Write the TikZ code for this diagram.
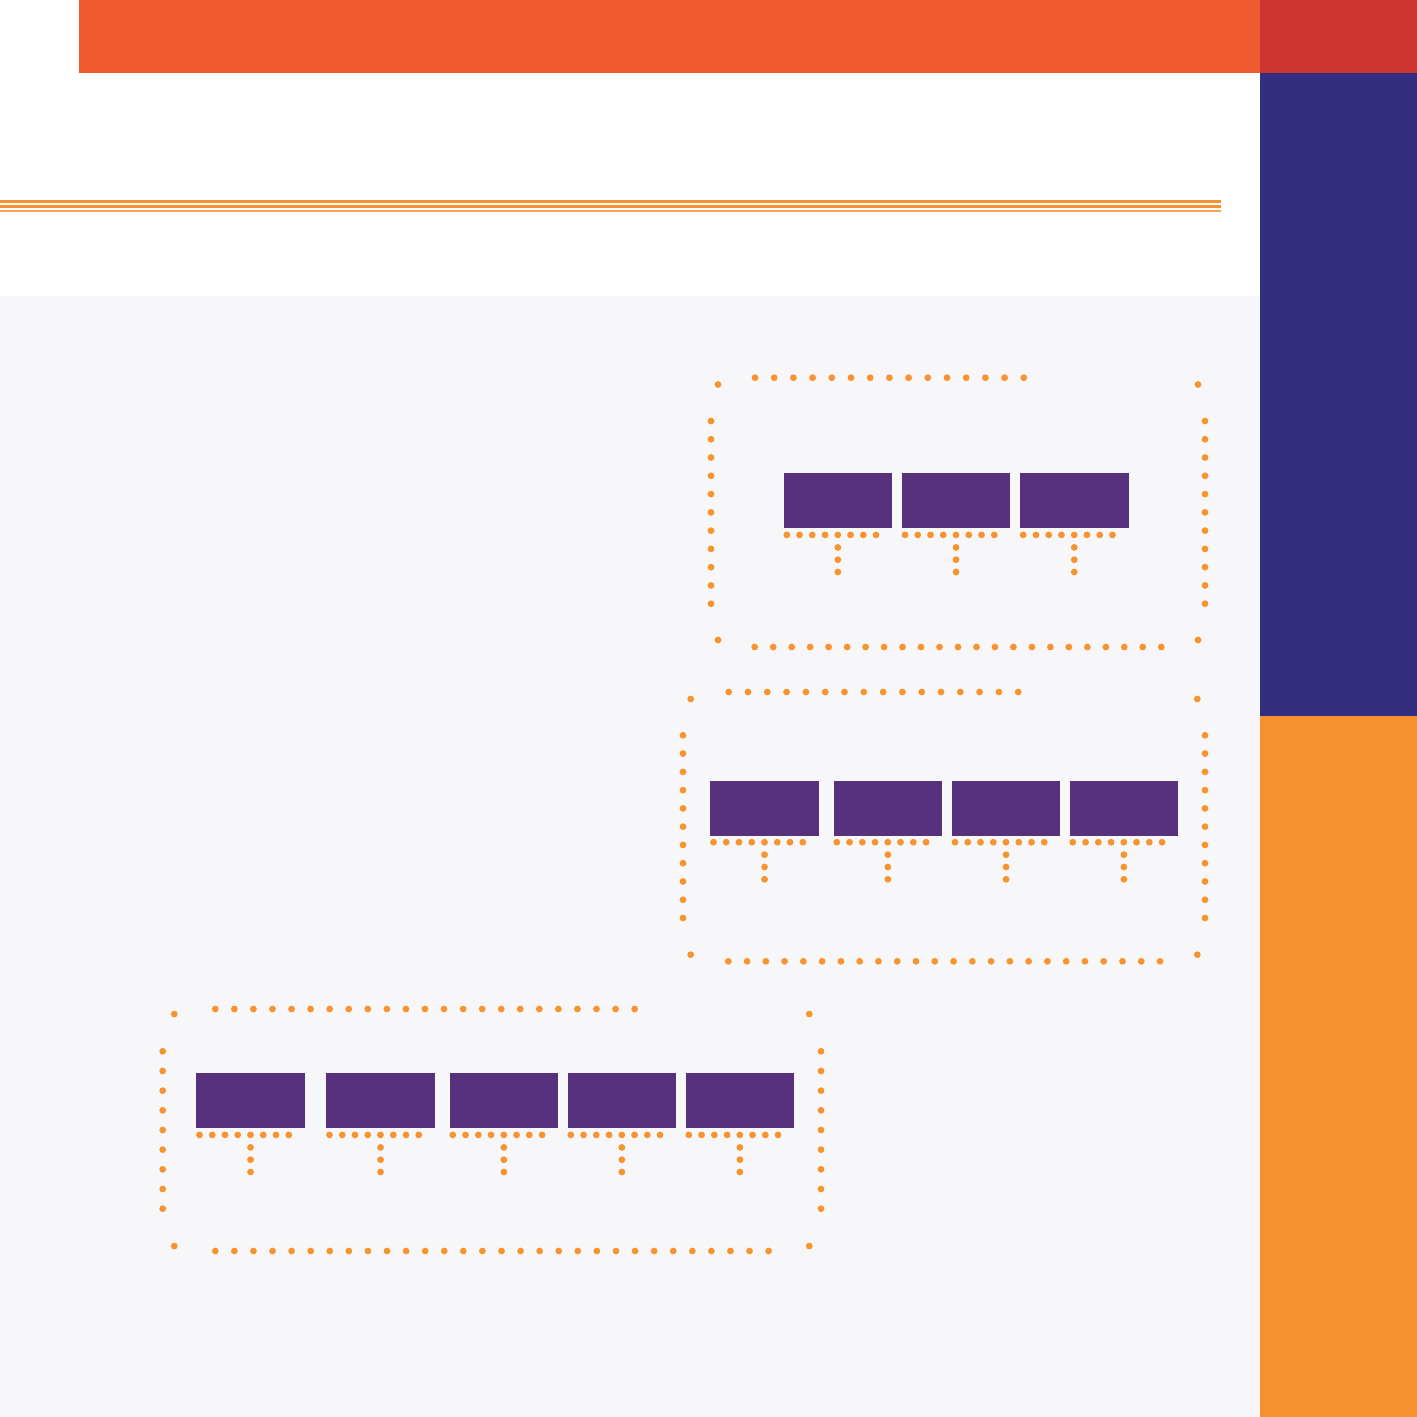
\documentclass[tikz,border=0pt]{standalone}
\usepackage{tikz}
\usetikzlibrary{calc}

\definecolor{barorange}{HTML}{F05A30}
\definecolor{barred}{HTML}{CF3530}
\definecolor{sideblue}{HTML}{332E7F}
\definecolor{sideorange}{HTML}{F7912F}
\definecolor{paper}{HTML}{F7F7F9}
\definecolor{unitpurple}{HTML}{58317C}
\definecolor{dotorange}{HTML}{F8942F}

\begin{document}
\begin{tikzpicture}[x=1pt,y=-1pt,
    dot/.style={fill=dotorange},
    unit/.style={anchor=north west,fill=unitpurple,inner sep=0pt,
                 minimum width=108.7pt,minimum height=55pt}]
    \useasboundingbox (0,0) rectangle (1417,1417);
    % page and side bands
    \fill[white] (0,0) rectangle (1417,1417);
    \fill[paper] (0,296) rectangle (1260,1417);
    \fill[barorange] (79,0) rectangle (1260,73);
    \fill[barred] (1260,0) rectangle (1417,73);
    \fill[sideblue] (1260,73) rectangle (1417,716);
    \fill[sideorange] (1260,716) rectangle (1417,1417);
    \fill[sideorange] (0,200.3) rectangle (1221,202.5);
    \fill[sideorange] (0,204.8) rectangle (1221,208);
    \fill[sideorange!85] (0,210.2) rectangle (1221,212.3);
    % units with their dots
    \foreach \n/\x/\y in {a1/783.3/473, a2/901.5/473, a3/1019.7/473,
                          b1/710/780.3, b2/833.3/780.3, b3/951.5/780.3, b4/1069.3/780.3,
                          c1/196/1073, c2/326/1073, c3/449.3/1073, c4/567.3/1073, c5/685.3/1073} {
        \node[unit] (\n) at (\x,\y) {};
        \foreach \i in {0,...,7}
            \path[dot] ($(\n.south west)+(3.5+12.75*\i,6.5)$) circle (3.4pt);
        \foreach \d in {19,31.3,43.6}
            \path[dot] ($(\n.south)+(0,\d)$) circle (3.4pt);
    }
    % frame round the three units
    \foreach \i in {0,...,14} \path[dot] (755+19.2*\i,377.7) circle (3.4pt);
    \foreach \i in {0,...,22} \path[dot] (754.7+18.48*\i,647) circle (3.4pt);
    \foreach \i in {0,...,10} {
        \path[dot] (711,421+18.27*\i) circle (3.4pt);
        \path[dot] (1205,421+18.27*\i) circle (3.4pt);
    }
    \foreach \p in {(718,384.5),(1198,384.5),(718,640),(1198,640)}
        \path[dot] \p circle (3.4pt);
    % frame round the four units
    \foreach \i in {0,...,15} \path[dot] (728.7+19.3*\i,692) circle (3.4pt);
    \foreach \i in {0,...,23} \path[dot] (728.3+18.77*\i,961.3) circle (3.4pt);
    \foreach \i in {0,...,10} {
        \path[dot] (683,735.3+18.27*\i) circle (3.4pt);
        \path[dot] (1205,735.3+18.27*\i) circle (3.4pt);
    }
    \foreach \p in {(690.7,699),(1197.3,699),(690.7,954.7),(1197.3,954.7)}
        \path[dot] \p circle (3.4pt);
    % frame round the five units
    \foreach \i in {0,...,22} \path[dot] (215.3+19.06*\i,1009) circle (3.4pt);
    \foreach \i in {0,...,29} \path[dot] (215.3+19.08*\i,1251) circle (3.4pt);
    \foreach \i in {0,...,8} {
        \path[dot] (162.7,1051.3+19.67*\i) circle (3.4pt);
        \path[dot] (821,1051.3+19.67*\i) circle (3.4pt);
    }
    \foreach \p in {(174.3,1014),(809.3,1014),(174.3,1246),(809.3,1246)}
        \path[dot] \p circle (3.4pt);
\end{tikzpicture}
\end{document}
